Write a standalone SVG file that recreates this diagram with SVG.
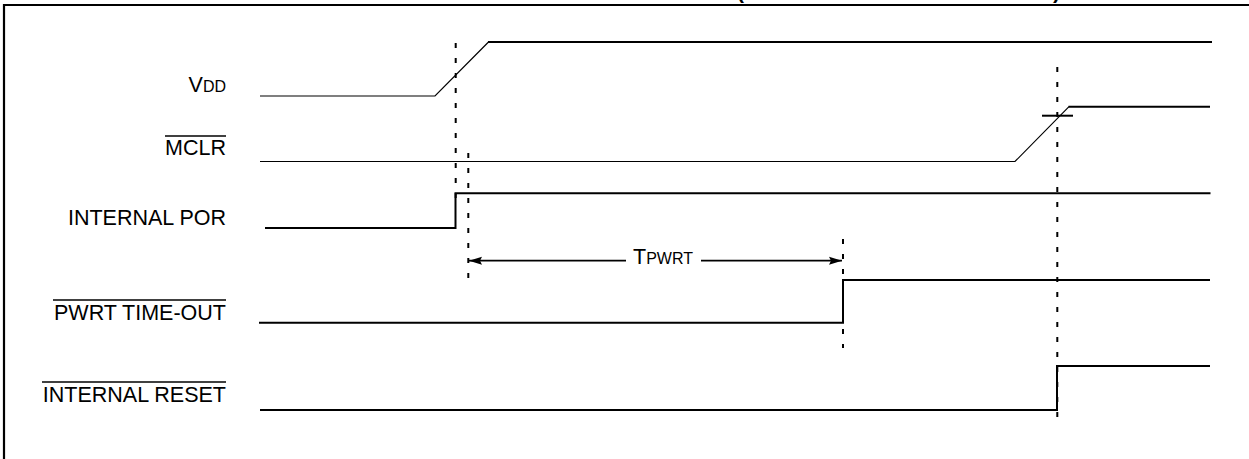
<svg xmlns="http://www.w3.org/2000/svg" width="1249" height="459" viewBox="0 0 1249 459">
<style>
  .lbl { font-family: "Liberation Sans", Arial, sans-serif; font-size: 21.5px; fill: #000; }
  .sub { font-size: 16px; }
  .title { font-family: "Liberation Sans", Arial, sans-serif; font-size: 21px; font-weight: bold; fill: #000; }
  .thin { fill: none; stroke: #000; stroke-width: 1.2; stroke-linejoin: miter; }
  .thick { fill: none; stroke: #000; stroke-width: 2; stroke-linejoin: miter; stroke-linecap: butt; }
  .bar { stroke: #000; stroke-width: 1.6; }
  .guide { stroke: #000; stroke-width: 2; stroke-dasharray: 5 10; fill: none; }
  .dim { stroke: #000; stroke-width: 1.7; fill: none; }
  .frame { stroke: #000; stroke-width: 2.2; fill: none; }
</style>
<defs>
  <marker id="arrow" markerUnits="userSpaceOnUse" markerWidth="14" markerHeight="10" viewBox="0 0 14 10" refX="13" refY="5" orient="auto">
    <path d="M0,1 L13,5 L0,9 L2,5 Z" fill="#000"/>
  </marker>
</defs>
<rect width="1249" height="459" fill="#fff"/>

<g id="frame">
  <text class="title" x="737" y="-1">(</text>
  <text class="title" x="1053" y="-1">)</text>
  <line class="frame" x1="3" y1="5" x2="1249" y2="5"/>
  <line class="frame" x1="4" y1="4" x2="4" y2="459"/>
</g>

<g id="vdd">
  <text class="lbl" x="226" y="92" text-anchor="end">V<tspan class="sub">DD</tspan></text>
  <polyline class="thin" points="260,96 435,96 488.5,42"/>
  <line class="thick" x1="488" y1="42" x2="1212" y2="42"/>
</g>

<g id="mclr">
  <text class="lbl" x="226" y="155" text-anchor="end">MCLR</text>
  <line class="bar" x1="165" y1="136" x2="226" y2="136"/>
  <polyline class="thin" points="260,161.5 1015,161.5 1069,106.7"/>
  <line class="thick" x1="1068.5" y1="106.7" x2="1210" y2="106.7"/>
  <line class="thick" x1="1042" y1="115.7" x2="1073" y2="115.7"/>
</g>

<g id="internal-por">
  <text class="lbl" x="226" y="225" text-anchor="end">INTERNAL POR</text>
  <polyline class="thick" points="265,228 455.5,228 455.5,193.3 1210.5,193.3"/>
</g>

<g id="pwrt-timeout">
  <text class="lbl" x="226" y="320" text-anchor="end">PWRT TIME-OUT</text>
  <line class="bar" x1="53" y1="300" x2="226" y2="300"/>
  <polyline class="thick" points="259,322.7 843,322.7 843,280 1210,280"/>
</g>

<g id="internal-reset">
  <text class="lbl" x="226" y="402" text-anchor="end">INTERNAL RESET</text>
  <line class="bar" x1="42" y1="382" x2="226" y2="382"/>
  <polyline class="thick" points="260,410 1057,410 1057,366 1210,366"/>
</g>

<g id="connectors">
  <line class="guide" x1="455.7" y1="43" x2="455.7" y2="202"/>
  <line class="guide" x1="468.3" y1="153" x2="468.3" y2="282"/>
  <line class="guide" x1="843" y1="239" x2="843" y2="348"/>
  <line class="guide" x1="1057.3" y1="67" x2="1057.3" y2="425"/>
  <line class="dim" x1="626" y1="260.7" x2="469" y2="260.7" marker-end="url(#arrow)"/>
  <line class="dim" x1="701" y1="260.7" x2="842" y2="260.7" marker-end="url(#arrow)"/>
  <text class="lbl" x="633" y="264">T<tspan class="sub">PWRT</tspan></text>
</g>
</svg>
